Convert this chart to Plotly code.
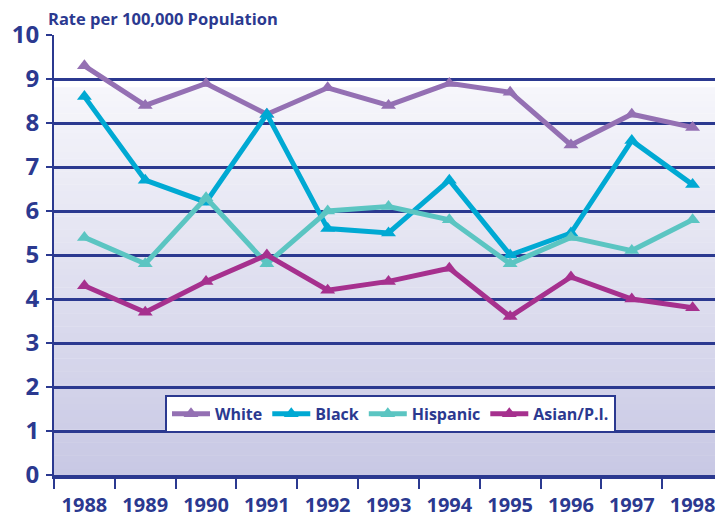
import plotly.graph_objects as go

years = [1988, 1989, 1990, 1991, 1992, 1993, 1994, 1995, 1996, 1997, 1998]
white = [9.3, 8.4, 8.9, 8.2, 8.8, 8.4, 8.9, 8.7, 7.5, 8.2, 7.9]
black = [8.6, 6.7, 6.2, 8.2, 5.6, 5.5, 6.7, 5.0, 5.5, 7.6, 6.6]
hispanic = [5.4, 4.8, 6.3, 4.8, 6.0, 6.1, 5.8, 4.8, 5.4, 5.1, 5.8]
asian = [4.3, 3.7, 4.4, 5.0, 4.2, 4.4, 4.7, 3.6, 4.5, 4.0, 3.8]
y_ticks = list(range(0, 11))

NAVY = "#2b3990"
FONT = "Open Sans"
series = [
    ("White", white, "#9470b3"),
    ("Black", black, "#00a9d3"),
    ("Hispanic", hispanic, "#5bc5c2"),
    ("Asian/P.I.", asian, "#a6308e"),
]

fig = go.Figure()
for name, vals, col in series:
    fig.add_trace(go.Scatter(
        x=years, y=vals, name=name, mode="lines+markers",
        line=dict(color=col, width=5),
        marker=dict(symbol="triangle-up", size=13, color=col),
    ))

# vertical gradient background (white at top -> lavender at bottom)
shapes = []
n = 60
top_v, bot_v = 8.8, 0.0
c_top = (246, 246, 251)
c_bot = (200, 200, 228)
for i in range(n):
    f = (i + 0.5) / n
    r = round(c_bot[0] + (c_top[0] - c_bot[0]) * f)
    g = round(c_bot[1] + (c_top[1] - c_bot[1]) * f)
    b = round(c_bot[2] + (c_top[2] - c_bot[2]) * f)
    shapes.append(dict(
        type="rect", xref="paper", yref="y", x0=0, x1=1,
        y0=bot_v + (top_v - bot_v) * i / n,
        y1=bot_v + (top_v - bot_v) * (i + 1) / n + 0.01,
        fillcolor=f"rgb({r},{g},{b})", line=dict(width=0), layer="below",
    ))

# page body has an 8px margin, so the figure is sized to fill the rest of the window
fig.update_layout(
    width=715, height=506,
    margin=dict(l=46, r=0, t=27, b=39, autoexpand=False),
    paper_bgcolor="white", plot_bgcolor="white",
    shapes=shapes,
    showlegend=True,
    legend=dict(
        orientation="h", x=0.503, xanchor="center", y=0.182, yanchor="top",
        bgcolor="white", bordercolor=NAVY, borderwidth=2,
        font=dict(family=FONT, size=16, color=NAVY, weight="bold"),
        itemwidth=38, tracegroupgap=0,
    ),
    annotations=[dict(
        text="<b>Rate per 100,000 Population</b>", xref="paper", yref="paper",
        x=-0.012, y=1.0, xanchor="left", yanchor="bottom", yshift=3, showarrow=False,
        font=dict(family=FONT, size=16.5, color=NAVY),
    )],
)

fig.update_xaxes(
    range=[1987.5, 1998.5], automargin=False,
    tickmode="array", tickvals=years, ticktext=[str(y) for y in years],
    ticks="", showgrid=False, zeroline=False,
    showline=True, linecolor=NAVY, linewidth=3.5,
    ticklabelstandoff=9,
    tickfont=dict(family=FONT, size=20, color=NAVY, weight="bold"),
    minor=dict(tickmode="array", tickvals=[y - 0.5 for y in years] + [1998.5],
               ticks="outside", ticklen=10, tickwidth=2, tickcolor=NAVY, showgrid=False),
)
fig.update_yaxes(
    range=[0, 10], tickmode="array", tickvals=y_ticks, automargin=False,
    showgrid=True, gridcolor=NAVY, gridwidth=2.5, zeroline=False,
    showline=True, linecolor=NAVY, linewidth=2,
    ticks="outside", ticklen=6, tickwidth=2, tickcolor=NAVY,
    ticklabelstandoff=2,
    tickfont=dict(family=FONT, size=24, color=NAVY, weight="bold"),
)

fig.write_html("out.html")
